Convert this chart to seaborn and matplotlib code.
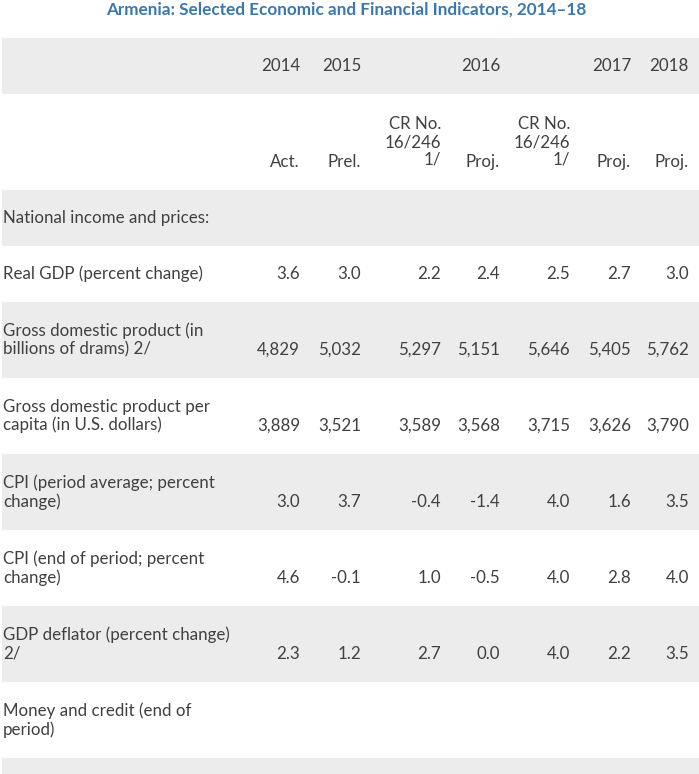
import matplotlib.pyplot as plt
import seaborn as sns

# Dữ liệu bảng
title = "Armenia: Selected Economic and Financial Indicators, 2014–18"
years = ["2014", "2015", "2016", "2017", "2018"]
year_cols = [0, 1, 3, 5, 6]   # cột mà nhãn năm nằm phía trên
col_status = ["Act.", "Prel.", "CR No.\n16/246\n1/", "Proj.", "CR No.\n16/246\n1/", "Proj.", "Proj."]

row_labels = [
    "National income and prices:",
    "Real GDP (percent change)",
    "Gross domestic product (in\nbillions of drams) 2/",
    "Gross domestic product per\ncapita (in U.S. dollars)",
    "CPI (period average; percent\nchange)",
    "CPI (end of period; percent\nchange)",
    "GDP deflator (percent change)\n2/",
    "Money and credit (end of\nperiod)",
    "",
]
real_gdp = ["3.6", "3.0", "2.2", "2.4", "2.5", "2.7", "3.0"]
gdp_drams = ["4,829", "5,032", "5,297", "5,151", "5,646", "5,405", "5,762"]
gdp_per_capita = ["3,889", "3,521", "3,589", "3,568", "3,715", "3,626", "3,790"]
cpi_avg = ["3.0", "3.7", "-0.4", "-1.4", "4.0", "1.6", "3.5"]
cpi_end = ["4.6", "-0.1", "1.0", "-0.5", "4.0", "2.8", "4.0"]
gdp_deflator = ["2.3", "1.2", "2.7", "0.0", "4.0", "2.2", "3.5"]
row_values = [None, real_gdp, gdp_drams, gdp_per_capita, cpi_avg, cpi_end, gdp_deflator, None, None]

# Bố cục (pixel)
col_right = [300, 361, 441, 500, 570, 631, 689]
header_heights = [56, 96]
row_heights = [56, 56, 76, 76, 76, 76, 76, 76, 40]
top = 38
line_h = 20

sns.set_style("white")
plt.rcParams['font.family'] = ['Lato', 'DejaVu Sans']
txt = "#404040"
band = "#ececec"
fs = 12.2
ls = 1.15

fig = plt.figure(figsize=(6.99, 7.74), dpi=100)
ax = fig.add_axes([0, 0, 1, 1])
ax.set_xlim(0, 699)
ax.set_ylim(774, 0)
ax.axis("off")

ax.text(346, 10, title, ha="center", va="center", fontsize=12.3,
        fontweight="bold", color="#3a78ad")

# Hàng tiêu đề 1: năm
y0 = top
ax.axhspan(y0, y0 + header_heights[0], xmin=2 / 699, xmax=1, color=band, lw=0)
yc = y0 + header_heights[0] / 2
for yr, c in zip(years, year_cols):
    ax.text(col_right[c], yc, yr, ha="right", va="center", fontsize=fs, color=txt)
y0 += header_heights[0]

# Hàng tiêu đề 2: trạng thái
yc = y0 + header_heights[1] / 2
for c, s in enumerate(col_status):
    n = s.count("\n") + 1
    ax.text(col_right[c], yc + (3 - n) * line_h / 2, s, ha="right", va="center",
            fontsize=fs, color=txt, multialignment="right", linespacing=ls)
y0 += header_heights[1]

# Các hàng dữ liệu
for i, (lab, vals) in enumerate(zip(row_labels, row_values)):
    h = row_heights[i]
    if i % 2 == 0:
        ax.axhspan(y0, y0 + h, xmin=2 / 699, xmax=1, color=band, lw=0)
    yc = y0 + h / 2
    n = lab.count("\n") + 1
    if lab:
        ax.text(3, yc, lab, ha="left", va="center", fontsize=fs, color=txt, linespacing=ls)
    if vals is not None:
        for c, v in enumerate(vals):
            ax.text(col_right[c], yc + (n - 1) * line_h / 2, v, ha="right", va="center",
                    fontsize=fs, color=txt)
    y0 += h

fig.savefig("out.png", dpi=100)
